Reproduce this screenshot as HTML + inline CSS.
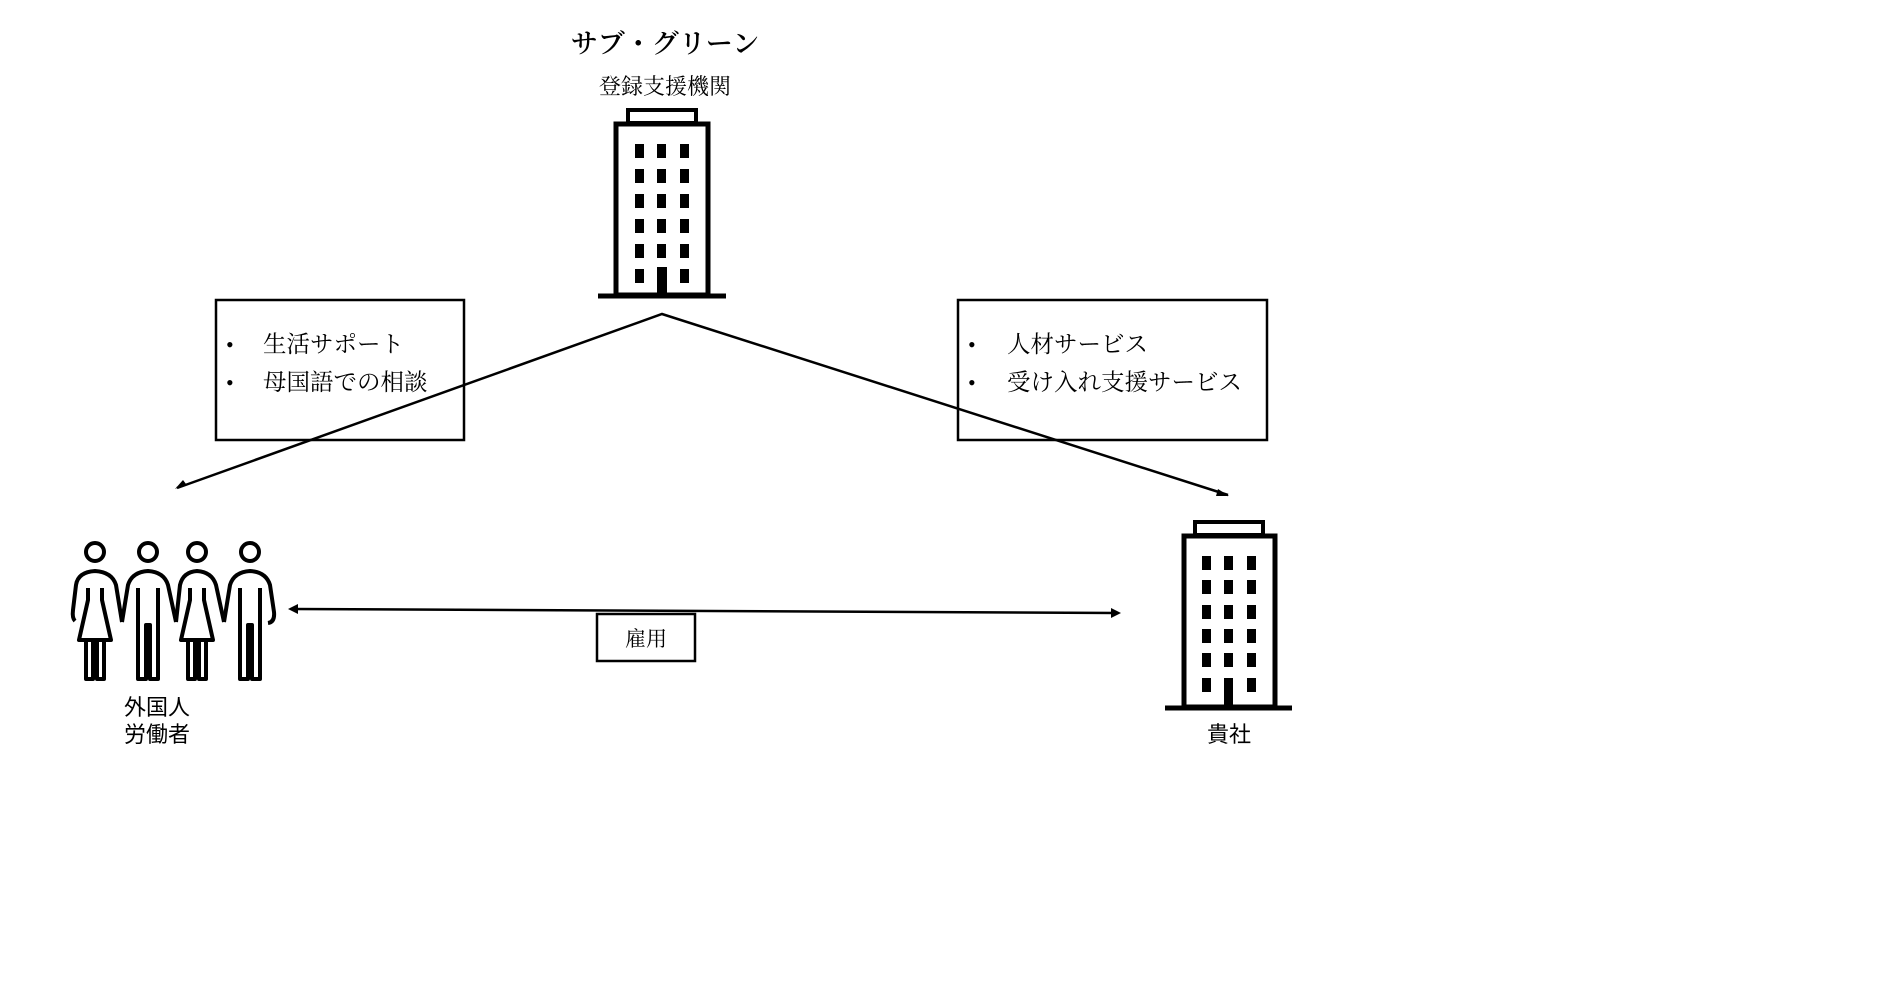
<!DOCTYPE html>
<html><head><meta charset="utf-8"><style>
html,body{margin:0;padding:0;background:#fff;}
body{width:1896px;height:1004px;position:relative;overflow:hidden;}
.t{position:absolute;white-space:nowrap;color:#000;}
.serif{font-family:"Liberation Serif","Noto Serif CJK SC",serif;}
.sans{font-family:"Liberation Sans","Noto Sans CJK JP",sans-serif;}
</style></head><body>
<svg width="1896" height="1004" style="position:absolute;left:0;top:0">
<!-- boxes -->
<rect x="216" y="300" width="248" height="140" fill="none" stroke="#000" stroke-width="2.5"/>
<rect x="958" y="300" width="309" height="140" fill="none" stroke="#000" stroke-width="2.5"/>
<rect x="597" y="614" width="98" height="47" fill="#fff" stroke="#000" stroke-width="2.5"/>
<!-- connectors -->
<polyline points="177,488 662,314 1228,495" fill="none" stroke="#000" stroke-width="2.5"/>
<path d="M186,484 L175,489 L183,480 z" fill="#000"/>
<path d="M1218,489 L1229,496 L1216,496 z" fill="#000"/>
<line x1="292" y1="609" x2="1117" y2="613" stroke="#000" stroke-width="2.5"/>
<path d="M288,609 L298,604 L298,614 z" fill="#000"/>
<path d="M1121,613 L1111,608 L1111,618 z" fill="#000"/>
<!-- building 1 -->
<g>
<rect x="628" y="110" width="68" height="13" fill="none" stroke="#000" stroke-width="4"/>
<rect x="616" y="124" width="92" height="171" fill="none" stroke="#000" stroke-width="5"/>
<line x1="598" y1="296" x2="726" y2="296" stroke="#000" stroke-width="5"/>
<g fill="#000">
<rect x="635" y="144" width="9" height="14"/><rect x="657" y="144" width="9" height="14"/><rect x="680" y="144" width="9" height="14"/>
<rect x="635" y="169" width="9" height="14"/><rect x="657" y="169" width="9" height="14"/><rect x="680" y="169" width="9" height="14"/>
<rect x="635" y="194" width="9" height="14"/><rect x="657" y="194" width="9" height="14"/><rect x="680" y="194" width="9" height="14"/>
<rect x="635" y="219" width="9" height="14"/><rect x="657" y="219" width="9" height="14"/><rect x="680" y="219" width="9" height="14"/>
<rect x="635" y="244" width="9" height="14"/><rect x="657" y="244" width="9" height="14"/><rect x="680" y="244" width="9" height="14"/>
<rect x="635" y="269" width="9" height="14"/><rect x="657" y="267" width="10" height="28"/><rect x="680" y="269" width="9" height="14"/>
</g></g>
<!-- building 2 -->
<g>
<rect x="1195" y="522" width="68" height="13" fill="none" stroke="#000" stroke-width="4"/>
<rect x="1184" y="536" width="91" height="171" fill="none" stroke="#000" stroke-width="5"/>
<line x1="1165" y1="708" x2="1292" y2="708" stroke="#000" stroke-width="5"/>
<g fill="#000">
<rect x="1202" y="556" width="9" height="14"/><rect x="1224" y="556" width="9" height="14"/><rect x="1247" y="556" width="9" height="14"/>
<rect x="1202" y="580" width="9" height="14"/><rect x="1224" y="580" width="9" height="14"/><rect x="1247" y="580" width="9" height="14"/>
<rect x="1202" y="605" width="9" height="14"/><rect x="1224" y="605" width="9" height="14"/><rect x="1247" y="605" width="9" height="14"/>
<rect x="1202" y="629" width="9" height="14"/><rect x="1224" y="629" width="9" height="14"/><rect x="1247" y="629" width="9" height="14"/>
<rect x="1202" y="653" width="9" height="14"/><rect x="1224" y="653" width="9" height="14"/><rect x="1247" y="653" width="9" height="14"/>
<rect x="1202" y="678" width="9" height="14"/><rect x="1224" y="678" width="9" height="29"/><rect x="1247" y="678" width="9" height="14"/>
</g></g>
<!-- workers -->
<g fill="none" stroke="#000" stroke-width="4" stroke-linejoin="round">
<circle cx="95" cy="552" r="9"/>
<path d="M75,621 Q72,618 73,610 L76,585 Q78,572 95,571 Q112,572 116,585 L122,622"/>
<path d="M88,588 L88,600 L79,640 L111,640 L102,600 L102,588"/>
<path d="M86,640 L86,679 L93,679 L93,640 M97,640 L97,679 L104,679 L104,640"/>
<circle cx="148" cy="552" r="9"/>
<path d="M122,622 L128,585 Q132,572 148,571 Q164,572 168,585 L176,622"/>
<path d="M138,588 L138,679 L146,679 L146,625 L150,625 L150,679 L158,679 L158,588"/>
<circle cx="197" cy="552" r="9"/>
<path d="M176,622 L180,585 Q183,572 197,571 Q212,572 216,585 L224,622"/>
<path d="M190,588 L190,600 L181,640 L213,640 L204,600 L204,588"/>
<path d="M188,640 L188,679 L195,679 L195,640 M199,640 L199,679 L206,679 L206,640"/>
<circle cx="250" cy="552" r="9"/>
<path d="M224,622 L230,585 Q234,572 250,571 Q266,572 270,585 L274,612 Q275,622 268,623"/>
<path d="M240,588 L240,679 L248,679 L248,625 L252,625 L252,679 L260,679 L260,588"/>
</g>
</svg>
<div class="t serif" style="left:565px;top:27px;width:200px;text-align:center;font-size:27px;line-height:34px;font-weight:600;">サブ・グリーン</div>
<div class="t serif" style="left:565px;top:72px;width:200px;text-align:center;font-size:22px;line-height:30px;">登録支援機関</div>
<div class="t serif" style="left:226px;top:330px;font-size:22px;line-height:30px;">•</div>
<div class="t serif" style="left:263px;top:330px;font-size:23.5px;line-height:30px;">生活サポート</div>
<div class="t serif" style="left:226px;top:368px;font-size:22px;line-height:30px;">•</div>
<div class="t serif" style="left:263px;top:368px;font-size:23.5px;line-height:30px;">母国語での相談</div>
<div class="t serif" style="left:968px;top:330px;font-size:22px;line-height:30px;">•</div>
<div class="t serif" style="left:1007px;top:330px;font-size:23.5px;line-height:30px;">人材サービス</div>
<div class="t serif" style="left:968px;top:368px;font-size:22px;line-height:30px;">•</div>
<div class="t serif" style="left:1007px;top:368px;font-size:23.5px;line-height:30px;">受け入れ支援サービス</div>
<div class="t serif" style="left:597px;top:625px;width:98px;text-align:center;font-size:21px;line-height:28px;">雇用</div>
<div class="t sans" style="left:107px;top:694px;width:100px;text-align:center;font-size:22px;line-height:27px;">外国人<br>労働者</div>
<div class="t sans" style="left:1179px;top:721px;width:100px;text-align:center;font-size:22px;line-height:28px;">貴社</div>
</body></html>
